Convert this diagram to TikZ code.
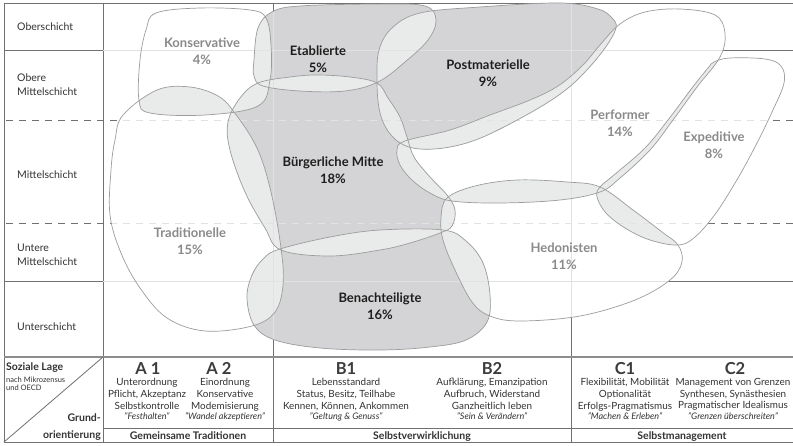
\documentclass[tikz,border=0pt]{standalone}
\usepackage{fontspec}
\setmainfont{Lato}
\definecolor{gridc}{HTML}{707070}
\definecolor{fgc}{HTML}{E2E2E2}
\definecolor{dkf}{HTML}{D4D4D6}
\definecolor{ltf}{HTML}{E9EAEA}
\definecolor{edgec}{HTML}{9C9C9C}
\definecolor{lblg}{HTML}{8A8A8A}
\definecolor{lblk}{HTML}{1E1E1E}
\definecolor{txt}{HTML}{333333}
\definecolor{hdc}{HTML}{3C3C3C}
\tikzset{sm/.style={smooth cycle,tension=0.6}}
\newcommand\shK{plot[sm] coordinates {(146,30) (156,13) (200,8) (250,10) (266,18) (271,45) (270,80) (258,106) (205,115) (150,113) (139,100) (140,60)}}
\newcommand\shE{plot[sm] coordinates {(254,60) (258,28) (272,12) (300,6) (380,4) (425,6) (436,20) (428,40) (405,62) (378,82) (345,91) (300,91) (263,86) (254,76)}}
\newcommand\shPm{plot[sm] coordinates {(377,80) (379,50) (392,28) (420,13) (480,7) (560,3) (598,9) (612,18) (616,28) (605,48) (585,72) (563,92) (530,113) (483,137) (450,147) (420,149) (400,143) (386,128) (379,108)}}
\newcommand\shPf{plot[sm] coordinates {(620,24) (645,12) (680,9) (715,15) (725,33) (720,57) (697,87) (673,120) (650,150) (620,178) (600,192) (560,200) (500,203) (452,201) (430,193) (412,180) (400,165) (397,150) (405,141) (450,130) (490,115) (530,100) (558,86) (582,66) (600,45)}}
\newcommand\shEx{plot[sm] coordinates {(714,62) (730,58) (765,59) (781,66) (784,83) (772,112) (757,143) (738,178) (716,213) (695,237) (678,245) (650,240) (625,228) (606,213) (597,197) (600,187) (614,175) (645,148) (668,120) (692,88) (708,68)}}
\newcommand\shH{plot[sm] coordinates {(447,198) (475,186) (517,180) (567,182) (600,187) (633,210) (662,232) (678,245) (682,262) (670,280) (635,300) (580,316) (520,321) (490,316) (472,302) (455,270) (443,240) (441,218)}}
\newcommand\shB{plot[sm] coordinates {(258,83) (290,77) (317,75) (350,77) (377,83) (388,98) (400,117) (407,137) (414,157) (430,177) (447,195) (455,210) (452,226) (440,233) (410,243) (380,250) (330,256) (281,250) (265,228) (245,192) (230,150) (228,122) (240,98)}}
\newcommand\shBn{plot[sm] coordinates {(280,249) (330,237) (380,230) (443,230) (466,241) (483,263) (490,295) (487,322) (466,340) (430,347) (380,350) (320,348) (275,340) (254,325) (247,298) (252,275) (264,258)}}
\newcommand\shT{plot[sm] coordinates {(123,115) (157,90) (190,87) (218,96) (234,112) (257,148) (271,192) (281,248) (283,285) (275,312) (252,326) (205,331) (167,318) (140,288) (121,253) (110,215) (111,170) (115,140)}}
\newcommand\ovl[2]{\begin{scope}\clip #1; \fill[ltf] #2;\end{scope}}
\newcommand\fgrid[1]{\begin{scope}\clip #1;
  \draw[fgc,line width=0.8pt] (103,50) -- (793,50) (103,281) -- (793,281) (273,3) -- (273,357) (571,3) -- (571,357);
  \draw[fgc,line width=0.8pt,dash pattern=on 7pt off 6pt] (6,120) -- (793,120) (6,223) -- (793,223);
\end{scope}}
\begin{document}
\begin{tikzpicture}[x=1pt,y=-1pt,
  gl/.style={gridc,line width=0.8pt},
  dl/.style={gridc,line width=0.8pt,dash pattern=on 7pt off 6pt},
  outl/.style={edgec,line width=0.7pt},
  lw/.style={align=center,inner sep=0pt,font=\fontsize{13}{17}\selectfont\bfseries,text=lblg},
  lb/.style={align=center,inner sep=0pt,font=\fontsize{13}{17}\selectfont\bfseries,text=lblk},
  lc/.style={anchor=base west,inner sep=0pt,font=\fontsize{10.5}{12}\selectfont,text=txt},
  hd/.style={anchor=base,inner sep=0pt,font=\fontsize{16.5}{18}\selectfont\bfseries,text=hdc},
  tb/.style={anchor=north,align=center,inner sep=0pt,font=\fontsize{9.9}{11.8}\selectfont,text=txt},
  ft/.style={anchor=base,inner sep=0pt,font=\fontsize{10.5}{12}\selectfont\bfseries,text=txt}]
\fill[white] (0,0) rectangle (793,445);
\useasboundingbox (0,0) rectangle (793,445);
\newcommand\qt{\itshape\fontsize{9}{10}\selectfont}
% grid
\draw[gl] (4,3) -- (793,3);
\draw[gl] (4,3) -- (4,442);
\draw[gl] (103,3) -- (103,442);
\draw[gl] (4,50) -- (103,50);
\draw[gl] (4,281) -- (103,281);
\draw[fgc,line width=0.8pt] (103,50) -- (600,50);
\draw[fgc,line width=0.8pt] (103,281) -- (600,281);
\draw[gl] (600,50) -- (793,50);
\draw[gl] (600,281) -- (793,281);
\draw[dl] (6,120) -- (793,120);
\draw[dl] (6,223) -- (793,223);
\draw[gl] (273,3) -- (273,442);
\draw[gl] (571,3) -- (571,442);
% shapes
\fill[white] \shK; \fill[white] \shT; \fill[white] \shPf; \fill[white] \shEx; \fill[white] \shH;
\fill[dkf] \shE; \fill[dkf] \shPm; \fill[dkf] \shB; \fill[dkf] \shBn;
\ovl{\shK}{\shT} \ovl{\shK}{\shE} \ovl{\shK}{\shB} \ovl{\shE}{\shB} \ovl{\shE}{\shPm}
\ovl{\shPm}{\shB} \ovl{\shPm}{\shPf} \ovl{\shPf}{\shB} \ovl{\shPf}{\shH} \ovl{\shPf}{\shEx}
\ovl{\shH}{\shEx} \ovl{\shH}{\shB} \ovl{\shH}{\shBn} \ovl{\shB}{\shBn} \ovl{\shT}{\shB} \ovl{\shT}{\shBn}
\fgrid{\shK} \fgrid{\shT} \fgrid{\shPf} \fgrid{\shEx} \fgrid{\shH} \fgrid{\shE} \fgrid{\shPm} \fgrid{\shB} \fgrid{\shBn}
\draw[outl] \shK; \draw[outl] \shT; \draw[outl] \shPf; \draw[outl] \shEx; \draw[outl] \shH;
\draw[outl] \shE; \draw[outl] \shPm; \draw[outl] \shB; \draw[outl] \shBn;
% shape labels
\node[lw] (lK) at (202,51.5) {Konservative\\4\%};
\node[lb] (lE) at (318,59.5) {Etablierte\\5\%};
\node[lb] (lPm) at (488,73.5) {Postmaterielle\\9\%};
\node[lb] (lB) at (333,170.5) {Bürgerliche Mitte\\18\%};
\node[lw] (lPf) at (620,123.5) {Performer\\14\%};
\node[lw] (lEx) at (714,145.5) {Expeditive\\8\%};
\node[lw] (lT) at (190,241.5) {Traditionelle\\15\%};
\node[lb] (lBn) at (380,306) {Benachteiligte\\16\%};
\node[lw] (lH) at (564,256) {Hedonisten\\11\%};
% left column
\node[lc] (r1) at (17,30) {Oberschicht};
\node[lc] (r2a) at (17,81) {Obere};
\node[lc] (r2b) at (17,95) {Mittelschicht};
\node[lc] (r3) at (17,178) {Mittelschicht};
\node[lc] (r4a) at (17,251) {Untere};
\node[lc] (r4b) at (17,265) {Mittelschicht};
\node[lc] (r5) at (17,330) {Unterschicht};
% table
\draw[gridc!80,line width=1.6pt] (4,357) -- (793,357);
\draw[gridc,line width=1pt] (103,428) -- (793,428);
\draw[gridc,line width=1pt] (4,442) -- (793,442);
\draw[gridc,line width=0.8pt] (4,442) -- (103,357);
\node[anchor=base west,inner sep=0pt,font=\fontsize{10.5}{12}\selectfont\bfseries,text=txt] (sl) at (6,370) {Soziale Lage};
\node[anchor=base west,inner sep=0pt,font=\fontsize{7.5}{8.5}\selectfont,text=txt] (sl2) at (6,382) {nach Mikrozensus};
\node[anchor=base west,inner sep=0pt,font=\fontsize{7.5}{8.5}\selectfont,text=txt] (sl3) at (6,390.7) {und OECD};
\node[anchor=base east,inner sep=0pt,font=\fontsize{10.5}{12}\selectfont\bfseries,text=txt] (go1) at (101,421.7) {Grund-};
\node[anchor=base east,inner sep=0pt,font=\fontsize{10.5}{12}\selectfont\bfseries,text=txt] (go2) at (101,438.3) {orientierung};
\node[hd] (a1) at (148,374) {A 1};
\node[hd] (a2) at (219,374) {A 2};
\node[hd] (b1) at (346,374) {B1};
\node[hd] (b2) at (492,374) {B2};
\node[hd] (c1) at (625,374) {C1};
\node[hd] (c2) at (735,374) {C2};
\node[tb] (a1t) at (147,378) {Unterordnung\\Pflicht, Akzeptanz\\Selbstkontrolle\\[-1.4pt]{\qt "Festhalten"}};
\node[tb] (a2t) at (225,378) {Einordnung\\Konservative\\Modemisierung\\[-1.4pt]{\qt "Wandel akzeptieren"}};
\node[tb] (b1t) at (346,378) {Lebensstandard\\Status, Besitz, Teilhabe\\Kennen, Können, Ankommen\\[-1.4pt]{\qt "Geltung \& Genuss"}};
\node[tb] (b2t) at (492,378) {Aufklärung, Emanzipation\\Aufbruch, Widerstand\\Ganzheitlich leben\\[-1.4pt]{\qt "Sein \& Verändern"}};
\node[tb] (c1t) at (625,378) {Flexibilität, Mobilität\\Optionalität\\Erfolgs-Pragmatismus\\[-1.4pt]{\qt "Machen \& Erleben"}};
\node[tb] (c2t) at (733,378) {Management von Grenzen\\Synthesen, Synästhesien\\Pragmatischer Idealismus\\[-1.4pt]{\qt "Grenzen überschreiten"}};
\node[ft] (fa) at (188,439.5) {Gemeinsame Traditionen};
\node[ft] (fb) at (422,439.5) {Selbstverwirklichung};
\node[ft] (fc) at (682,439.5) {Selbstmanagement};
\end{tikzpicture}
\end{document}
